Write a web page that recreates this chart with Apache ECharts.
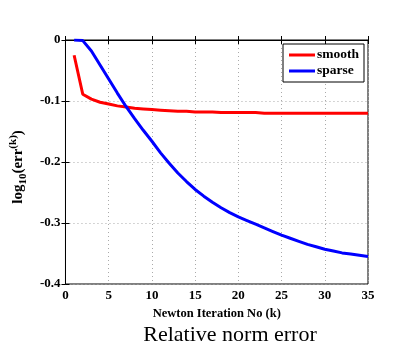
<!DOCTYPE html>
<html>
<head>
<meta charset="utf-8">
<script src="https://cdn.jsdelivr.net/npm/echarts@6/dist/echarts.min.js"></script>
<style>html,body{margin:0;padding:0;background:#fff;}#c{width:397px;height:342px;}</style>
</head>
<body>
<div id="c"></div>
<script>
var iterations = [1,2,3,4,5,6,7,8,9,10,11,12,13,14,15,16,17,18,19,20,21,22,23,24,25,26,27,28,29,30,31,32,33,34,35];
var smooth = [-0.025,-0.089,-0.097,-0.102,-0.105,-0.108,-0.110,-0.112,-0.113,-0.114,-0.115,-0.116,-0.117,-0.117,-0.118,-0.118,-0.118,-0.119,-0.119,-0.119,-0.119,-0.119,-0.120,-0.120,-0.120,-0.120,-0.120,-0.120,-0.120,-0.120,-0.120,-0.120,-0.120,-0.120,-0.120];
var sparse = [0,-0.001,-0.018,-0.041,-0.064,-0.087,-0.109,-0.129,-0.148,-0.166,-0.185,-0.202,-0.218,-0.232,-0.245,-0.256,-0.266,-0.275,-0.283,-0.290,-0.296,-0.302,-0.308,-0.314,-0.320,-0.325,-0.330,-0.335,-0.339,-0.343,-0.346,-0.349,-0.351,-0.353,-0.355];
var xTicks = [0,5,10,15,20,25,30,35];
var yTicks = [0,-0.1,-0.2,-0.3,-0.4];
var seriesNames = ['smooth','sparse'];
var titleText = 'Relative norm error';
var xName = 'Newton Iteration No (k)';

function pairs(v){ return iterations.map(function(k,i){ return [k, v[i]]; }); }
var serif = 'Liberation Serif';
var chart = echarts.init(document.getElementById('c'));
var tickFont = {fontFamily: serif, fontWeight: 'bold', fontSize: 13, color: '#000'};
chart.setOption({
  animation: false,
  backgroundColor: '#fff',
  grid: {left: 62, right: 29, top: 40, bottom: 58, show: true, borderColor: '#000', borderWidth: 1, backgroundColor: 'transparent'},
  graphic: [{
    type: 'text', x: 230, y: 324,
    style: {text: titleText, font: 'normal 22px "Liberation Serif"', fill: '#000', align: 'center', verticalAlign: 'top', textAlign: 'center', textVerticalAlign: 'top'}
  }],
  legend: {
    data: seriesNames, orient: 'vertical', left: 283, top: 44,
    icon: 'rect', itemWidth: 26, itemHeight: 3, itemGap: 2,
    backgroundColor: '#fff', borderColor: '#000', borderWidth: 1,
    padding: [4, 5, 4, 6],
    textStyle: {fontFamily: serif, fontWeight: 'bold', fontSize: 13.5, color: '#000', padding: [0,0,0,-3]}
  },
  xAxis: [{
    type: 'value', min: 0, max: 35, interval: 5,
    name: xName, nameLocation: 'middle', nameGap: 16,
    nameTextStyle: {fontFamily: serif, fontWeight: 'bold', fontSize: 12.5, color: '#000'},
    axisLine: {show: true, lineStyle: {color: '#000', width: 1}},
    axisTick: {show: true, inside: true, length: 4, lineStyle: {color: '#000'}},
    axisLabel: Object.assign({margin: 5, formatter: function(v){ return xTicks.indexOf(v) >= 0 ? String(v) : ''; }}, tickFont),
    splitLine: {show: true, lineStyle: {color: '#aaa', type: [1, 3], width: 1}}
  }, {
    type: 'value', min: 0, max: 35, interval: 5, position: 'top',
    axisLine: {show: true, lineStyle: {color: '#000'}},
    axisTick: {show: true, inside: true, length: 4, lineStyle: {color: '#000'}},
    axisLabel: {show: false}, splitLine: {show: false}
  }],
  yAxis: [{
    type: 'value', min: -0.4, max: 0, interval: 0.1,
    name: '{a|log}{s|10}{a|(err}{p|(k)}{a|)}',
    nameLocation: 'middle', nameGap: 30, nameRotate: 90,
    nameTextStyle: {
      padding: [0, 10, 0, 0],
      rich: {
        a: {fontFamily: serif, fontWeight: 'bold', fontSize: 15, color: '#000', lineHeight: 26, verticalAlign: 'middle'},
        s: {fontFamily: serif, fontWeight: 'bold', fontSize: 11, color: '#000', lineHeight: 26, verticalAlign: 'middle', padding: [10,0,0,0]},
        p: {fontFamily: serif, fontWeight: 'bold', fontSize: 11, color: '#000', lineHeight: 26, verticalAlign: 'middle', padding: [0,0,10,0]}
      }
    },
    axisLine: {show: true, lineStyle: {color: '#000', width: 1}},
    axisTick: {show: true, inside: true, length: 4, lineStyle: {color: '#000'}},
    axisLabel: Object.assign({margin: 5, formatter: function(v){ var r = Math.round(v*10)/10; return r === 0 ? '0' : r.toFixed(1); }}, tickFont),
    splitLine: {show: true, lineStyle: {color: '#aaa', type: [1, 3], width: 1}}
  }, {
    type: 'value', min: -0.4, max: 0, interval: 0.1, position: 'right',
    axisLine: {show: true, lineStyle: {color: '#000'}},
    axisTick: {show: true, inside: true, length: 4, lineStyle: {color: '#000'}},
    axisLabel: {show: false}, splitLine: {show: false}
  }],
  series: [
    {name: seriesNames[0], type: 'line', data: pairs(smooth), showSymbol: false, symbol: 'none', lineStyle: {color: '#ff0000', width: 3}, itemStyle: {color: '#ff0000'}, z: 3},
    {name: seriesNames[1], type: 'line', data: pairs(sparse), showSymbol: false, symbol: 'none', lineStyle: {color: '#0000ff', width: 3}, itemStyle: {color: '#0000ff'}, z: 4}
  ]
});
</script>
</body>
</html>
